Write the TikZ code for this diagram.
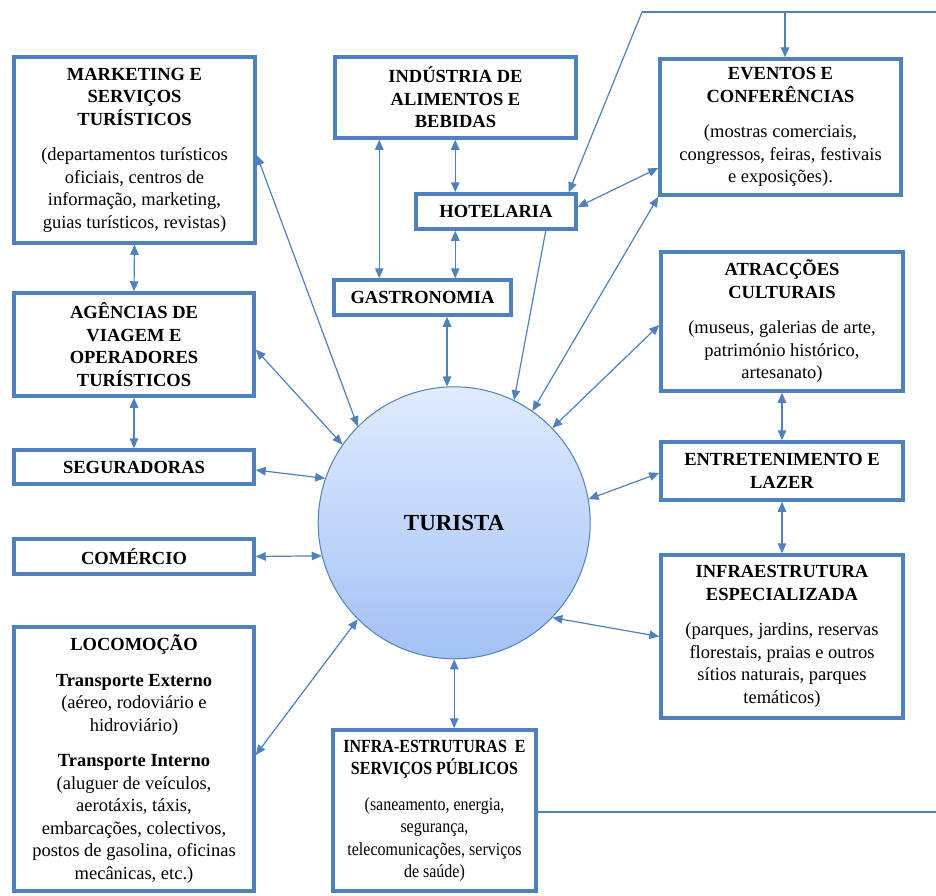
\documentclass[tikz,border=0pt]{standalone}
\usepackage{fontspec}
\usepackage{graphicx}
\setmainfont{Liberation Serif}
\usetikzlibrary{arrows.meta,calc}
\definecolor{edgeblue}{HTML}{4F81BD}
\definecolor{discTop}{HTML}{E0EBFE}
\definecolor{discBot}{HTML}{A3C1F5}
\begin{document}
\begin{tikzpicture}[x=1pt,y=-1pt,
  panel/.style={draw=edgeblue, line width=3.5pt, fill=white, align=center, inner sep=2pt,
    font=\fontsize{18.5}{22.5}\selectfont},
  link/.style={draw=edgeblue, line width=1.2pt},
  twoway/.style={link, {Triangle[length=10pt,width=8.5pt]}-{Triangle[length=10pt,width=8.5pt]}},
  oneway/.style={link, -{Triangle[length=10pt,width=8.5pt]}},
]
\useasboundingbox[fill=white] (0,0) rectangle (936,895);

% left column
\node[panel, minimum width=241pt, minimum height=186pt] (mkt) at (134.5,150)
  {\textbf{MARKETING E}\\\textbf{SERVIÇOS}\\\textbf{TURÍSTICOS}\\[13pt]
   (departamentos turísticos\\oficiais, centros de\\informação, marketing,\\guias turísticos, revistas)};
\node[panel, minimum width=240pt, minimum height=103pt] (age) at (134,344.5)
  {\textbf{AGÊNCIAS DE}\\\textbf{VIAGEM E}\\\textbf{OPERADORES}\\\textbf{TURÍSTICOS}};
\node[panel, minimum width=240pt, minimum height=34pt] (seg) at (134,467)
  {\textbf{SEGURADORAS}};
\node[panel, minimum width=240pt, minimum height=35pt] (com) at (134,556.5)
  {\textbf{COMÉRCIO}};
\node[panel, minimum width=240pt, minimum height=264pt] (loc) at (134,759)
  {\textbf{LOCOMOÇÃO}\\[13pt]
   \textbf{Transporte Externo}\\(aéreo, rodoviário e\\hidroviário)\\[13pt]
   \textbf{Transporte Interno}\\(aluguer de veículos,\\aerotáxis, táxis,\\
   embarcações, colectivos,\\postos de gasolina, oficinas\\mecânicas, etc.)};

% centre column
\node[panel, minimum width=241pt, minimum height=81pt] (ind) at (455.5,97.5)
  {\textbf{INDÚSTRIA DE}\\\textbf{ALIMENTOS E}\\\textbf{BEBIDAS}};
\node[panel, minimum width=160pt, minimum height=35pt] (hot) at (496,211.5)
  {\textbf{HOTELARIA}};
\node[panel, minimum width=177pt, minimum height=35pt] (gas) at (422.5,297.5)
  {\textbf{GASTRONOMIA}};
\node[panel, minimum width=203pt, minimum height=161pt] (pub) at (434.5,810.5)
  {\scalebox{0.865}[1]{\begin{tabular}{@{}c@{}}
   \textbf{INFRA-ESTRUTURAS\ \ E}\\\textbf{SERVIÇOS PÚBLICOS}\\[13pt]
   (saneamento, energia,\\segurança,\\telecomunicações, serviços\\de saúde)
   \end{tabular}}};

% right column
\node[panel, minimum width=241pt, minimum height=136pt] (eve) at (780.5,127)
  {\textbf{EVENTOS E}\\\textbf{CONFERÊNCIAS}\\[13pt]
   (mostras comerciais,\\congressos, feiras, festivais\\e exposições).};
\node[panel, minimum width=242pt, minimum height=139pt] (atr) at (782,321.5)
  {\textbf{ATRACÇÕES}\\\textbf{CULTURAIS}\\[13pt]
   (museus, galerias de arte,\\património histórico,\\artesanato)};
\node[panel, minimum width=242pt, minimum height=58pt] (ent) at (782,471)
  {\textbf{ENTRETENIMENTO E}\\\textbf{LAZER}};
\node[panel, minimum width=242pt, minimum height=163pt] (inf) at (782,636.5)
  {\textbf{INFRAESTRUTURA}\\\textbf{ESPECIALIZADA}\\[13pt]
   (parques, jardins, reservas\\florestais, praias e outros\\sítios naturais, parques\\temáticos)};

% the tourist at the centre
\node[circle, draw=edgeblue, line width=1pt, top color=discTop, bottom color=discBot,
  minimum size=272pt, inner sep=0pt, font=\fontsize{23}{27}\selectfont\bfseries]
  (tur) at (454.2,522.8) {TURISTA};

% links on the left
\draw[twoway] (mkt.south) -- (age.north);
\draw[twoway] (age.south) -- (seg.north);
\draw[twoway] ($(mkt.east)+(0,5)$) -- (tur.135.3);
\draw[twoway] ($(age.east)+(0,5)$) -- (tur.145.1);
\draw[twoway] ($(seg.east)+(0,3)$) -- (tur.161.4);
\draw[twoway] (com.east) -- (tur.194.5);
\draw[twoway] ($(loc.east)+(0,-4)$) -- (tur.225.6);

% links in the centre
\draw[twoway] ($(ind.south west)+(46,0)$) coordinate (ig) -- (ig |- gas.north);
\draw[twoway] ($(hot.north west)+(41,0)$) coordinate (hi) -- (hi |- ind.south);
\draw[twoway] (hi |- hot.south) -- (hi |- gas.north);
\draw[twoway] (tur.93) -- (tur.93 |- gas.south);
\draw[oneway] ($(hot.south east)+(-32,0)$) -- (tur.64.7);
\draw[twoway] (tur.south) -- (tur.south |- pub.north);

% links on the right
\draw[twoway] ($(eve.west)+(0,41)$) -- ($(hot.east)+(0,-4.5)$);
\draw[twoway] (eve.south west) -- (tur.55.7);
\draw[twoway] ($(atr.west)+(0,3.5)$) -- (tur.44.7);
\draw[twoway] ($(ent.west)+(0,2)$) -- (tur.10.6);
\draw[twoway] (inf.west) -- (tur.-44.4);
\draw[twoway] (atr.south) -- (ent.north);
\draw[twoway] (ent.south) -- (inf.north);

% feed lines running off the edge
\coordinate (feedL) at (642,12);
\coordinate (feedR) at (936,12);
\coordinate (feedB) at (936,812);
\draw[link] (feedR) -- (feedL);
\draw[oneway] (feedL) -- ($(hot.north east)+(-9,0)$);
\coordinate (evtop) at ($(eve.north)+(4.5,0)$);
\draw[oneway] (evtop |- feedL) -- (evtop);
\draw[link] (pub.east |- feedB) -- (feedB);
\end{tikzpicture}
\end{document}
